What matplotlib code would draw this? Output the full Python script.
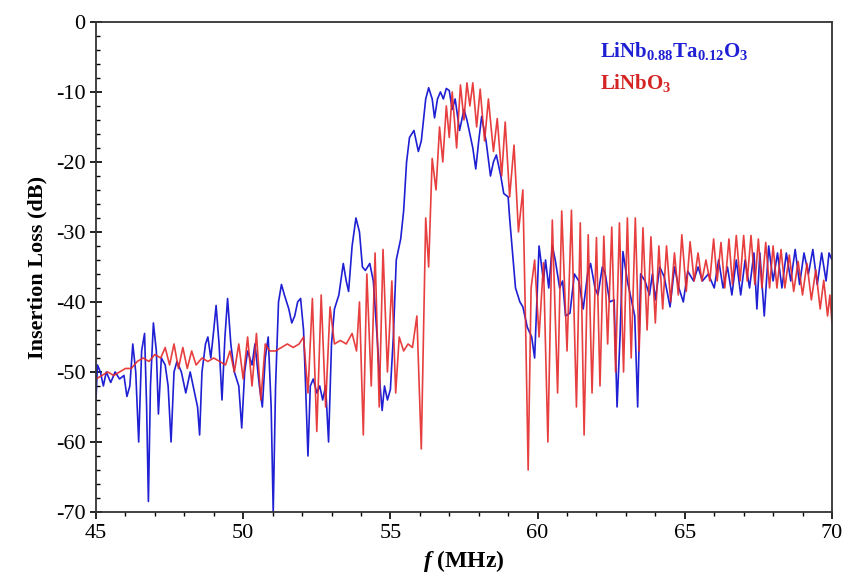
import matplotlib
matplotlib.use('Agg')
import matplotlib.pyplot as plt
from matplotlib.ticker import MultipleLocator

plt.rcParams['font.family'] = 'Liberation Serif'
plt.rcParams['axes.unicode_minus'] = False
plt.rcParams['mathtext.fontset'] = 'custom'
plt.rcParams['mathtext.rm'] = 'Liberation Serif:bold'
plt.rcParams['mathtext.bf'] = 'Liberation Serif:bold'
plt.rcParams['mathtext.it'] = 'Liberation Serif:italic:bold'

# LiNb0.88Ta0.12O3 (blue)
freq_blue = [45.00, 45.05, 45.15, 45.25, 45.35, 45.50, 45.65, 45.80, 45.95, 46.05,
             46.15, 46.25, 46.35, 46.45, 46.55, 46.65, 46.72, 46.78, 46.85, 46.95,
             47.05, 47.12, 47.22, 47.35, 47.45, 47.55, 47.65, 47.75, 47.90, 48.05,
             48.20, 48.30, 48.45, 48.52, 48.60, 48.72, 48.80, 48.90, 49.00, 49.08,
             49.18, 49.28, 49.38, 49.47, 49.58, 49.70, 49.85, 49.95, 50.05, 50.15,
             50.30, 50.40, 50.55, 50.65, 50.75, 50.85, 50.95, 51.02, 51.10, 51.20,
             51.30, 51.40, 51.55, 51.65, 51.75, 51.85, 51.95, 52.05, 52.12, 52.20,
             52.28, 52.38, 52.50, 52.60, 52.70, 52.80, 52.90, 53.00, 53.10, 53.25,
             53.40, 53.50, 53.58, 53.70, 53.83, 53.95, 54.05, 54.15, 54.30, 54.42,
             54.55, 54.65, 54.72, 54.80, 54.90, 55.00, 55.10, 55.20, 55.35, 55.45,
             55.55, 55.65, 55.80, 55.95, 56.05, 56.20, 56.30, 56.42, 56.50, 56.60,
             56.70, 56.80, 56.90, 57.00, 57.10, 57.20, 57.35, 57.50, 57.60, 57.70,
             57.80, 57.90, 58.00, 58.10, 58.25, 58.40, 58.50, 58.60, 58.75, 58.85,
             59.00, 59.05, 59.15, 59.25, 59.40, 59.50, 59.65, 59.80, 59.90, 60.05,
             60.20, 60.27, 60.38, 60.50, 60.60, 60.75, 60.85, 60.95, 61.10, 61.25,
             61.40, 61.55, 61.70, 61.80, 61.95, 62.05, 62.20, 62.30, 62.45, 62.60,
             62.70, 62.80, 62.90, 63.05, 63.15, 63.30, 63.40, 63.50, 63.65, 63.80,
             63.90, 64.00, 64.15, 64.30, 64.50, 64.65, 64.80, 64.95, 65.10, 65.30,
             65.45, 65.60, 65.80, 66.00, 66.15, 66.30, 66.45, 66.60, 66.75, 66.90,
             67.05, 67.20, 67.35, 67.45, 67.55, 67.70, 67.85, 68.00, 68.15, 68.30,
             68.45, 68.60, 68.75, 68.90, 69.05, 69.20, 69.35, 69.50, 69.65, 69.80,
             69.90, 70.00]
loss_blue = [-54, -49, -50, -52, -50, -51.5, -50, -51, -50.5, -53.5,
             -52, -46, -50, -60, -47, -44.5, -55, -68.5, -52, -43,
             -47, -56, -48, -49, -52, -60, -50, -48.5, -50, -53,
             -50, -52, -55, -59, -50, -46, -45, -48, -44, -40.5,
             -46, -54, -45, -39.5, -46, -50, -52, -58, -50, -47,
             -49, -46, -52, -55, -48, -45, -55, -70, -52, -40,
             -37.5, -39, -41, -43, -42, -40, -39.5, -44, -52, -62,
             -52, -51, -53, -52, -54, -52, -60, -46, -41, -39,
             -34.5, -37, -38.5, -32, -28, -30, -35, -35.5, -34.5, -37,
             -45, -52, -55.5, -52, -54, -52.5, -45, -34, -31, -27,
             -20, -16.5, -15.5, -18.5, -17, -11, -9.4, -11, -13.7, -11,
             -10, -11, -9.5, -9.8, -12.5, -11, -15.5, -12.5, -14, -16,
             -18, -21, -17, -13.5, -17, -22, -20, -19, -22, -24.5,
             -25, -28, -33, -38, -40, -40.7, -43.6, -45, -48, -32,
             -37, -34, -38, -32, -34, -38, -37, -42, -41.6, -36,
             -37, -41, -36, -34.5, -38, -39, -35, -36, -40, -39.7,
             -55, -45, -32.8, -37, -39, -42, -55, -36, -37, -39,
             -36, -39.7, -35, -36.4, -40.7, -35, -38, -40, -35.6, -37,
             -35, -37, -36, -38, -34, -38, -35, -39, -34, -39,
             -34, -38, -33, -41, -33, -42, -32, -37, -33, -38,
             -33, -37, -32.5, -37.5, -33, -36, -32.5, -37.5, -33, -37,
             -33, -34]

# LiNbO3 (red)
freq_red = [45.00, 45.20, 45.40, 45.60, 45.80, 46.00, 46.20, 46.40, 46.60, 46.80,
            47.00, 47.20, 47.35, 47.50, 47.65, 47.80, 47.95, 48.10, 48.25, 48.40,
            48.60, 48.80, 49.00, 49.20, 49.40, 49.55, 49.70, 49.85, 50.00, 50.15,
            50.30, 50.45, 50.60, 50.75, 50.90, 51.10, 51.30, 51.50, 51.70, 51.90,
            52.05, 52.20, 52.35, 52.50, 52.65, 52.80, 52.95, 53.10, 53.30, 53.50,
            53.70, 53.85, 53.95, 54.08, 54.20, 54.35, 54.48, 54.62, 54.75, 54.90,
            55.05, 55.18, 55.30, 55.45, 55.60, 55.75, 55.90, 56.05, 56.20, 56.30,
            56.42, 56.55, 56.67, 56.78, 56.90, 57.00, 57.10, 57.25, 57.38, 57.50,
            57.60, 57.70, 57.80, 57.93, 58.05, 58.20, 58.33, 58.50, 58.63, 58.78,
            58.90, 59.05, 59.20, 59.35, 59.50, 59.60, 59.68, 59.78, 59.90, 60.05,
            60.20, 60.35, 60.50, 60.68, 60.82, 61.00, 61.15, 61.32, 61.45, 61.58,
            61.72, 61.85, 62.00, 62.12, 62.25, 62.38, 62.52, 62.65, 62.78, 62.92,
            63.05, 63.18, 63.32, 63.45, 63.58, 63.72, 63.85, 64.00, 64.12, 64.25,
            64.38, 64.52, 64.65, 64.78, 64.90, 65.05, 65.18, 65.32, 65.45, 65.58,
            65.72, 65.85, 65.98, 66.10, 66.23, 66.36, 66.50, 66.62, 66.75, 66.88,
            67.00, 67.12, 67.25, 67.38, 67.50, 67.62, 67.75, 67.88, 68.00, 68.13,
            68.27, 68.40, 68.55, 68.70, 68.85, 69.00, 69.15, 69.30, 69.45, 69.60,
            69.72, 69.85, 69.93, 70.00]
loss_red = [-51, -50.5, -50, -50.5, -50, -49.5, -49.5, -48.5, -48, -48.5,
            -47.5, -48, -46.5, -49, -46, -49.5, -46.5, -49.5, -47, -49,
            -48, -48.5, -48, -48.5, -49, -47, -50, -46, -51, -45,
            -52, -44.5, -54, -46, -47, -47, -46.5, -46, -46.5, -46,
            -45, -53, -39.5, -58.5, -39, -55, -40.7, -46, -45.5, -46,
            -44.5, -47, -40, -59, -36, -52, -33, -55, -32.5, -50,
            -37, -53, -45, -47, -46, -46.5, -42, -61, -28, -35,
            -19.5, -24, -15, -20, -12, -16.5, -10, -18, -9, -14,
            -8.7, -12, -8.7, -15, -9.6, -17, -11, -18.5, -13.8, -22,
            -14.3, -25, -17.6, -30, -24, -45, -64, -38, -34, -45,
            -34.4, -60, -28.3, -53, -27, -47, -26.9, -55, -28.7, -59,
            -30.4, -53, -30.8, -52, -30.6, -46, -29.3, -50, -28.7, -50,
            -28, -48, -28, -47, -29.4, -44, -30.7, -43, -32, -41,
            -32, -40, -33, -39, -30.4, -38.5, -31.4, -37, -33, -37,
            -34, -37, -31, -37, -31.5, -38, -31, -37.5, -30.5, -37,
            -30.5, -37, -30.5, -37.5, -31, -38, -31.5, -38, -32, -38,
            -32.5, -38, -33.3, -38.5, -34.2, -39, -34.5, -39.7, -35.4, -41,
            -36.9, -42, -39, -43]

fig = plt.figure(figsize=(8.48, 5.87), dpi=100)
ax = fig.add_axes([0.1132, 0.1278, 0.8679, 0.8348])

ax.plot(freq_blue, loss_blue, color='#1f1fd4', lw=1.2)
ax.plot(freq_red, loss_red, color='#e52a2a', lw=1.2, alpha=0.9)

ax.set_xlim(45, 70)
ax.set_ylim(-70, 0)
ax.xaxis.set_major_locator(MultipleLocator(5))
ax.xaxis.set_minor_locator(MultipleLocator(1))
ax.yaxis.set_major_locator(MultipleLocator(10))
ax.yaxis.set_minor_locator(MultipleLocator(2))
ax.tick_params(axis='x', which='major', direction='out', length=5, width=1.2, labelsize=16)
ax.tick_params(axis='x', which='minor', direction='out', length=3, width=1)
ax.tick_params(axis='y', which='major', direction='inout', length=8, width=1.2, labelsize=16)
ax.tick_params(axis='y', which='minor', direction='in', length=3, width=1)
for s in ax.spines.values():
    s.set_linewidth(1.3)
    s.set_color('#333333')

ax.set_ylabel('Insertion Loss (dB)', fontsize=16, fontweight='bold', labelpad=6)
ax.set_xlabel('$f$ (MHz)', fontsize=17, fontweight='bold', labelpad=4)

ax.text(0.685, 0.94, r'$\mathbf{LiNb_{0.88}Ta_{0.12}O_3}$', transform=ax.transAxes,
        color='#1f1fd4', fontsize=15, va='center')
ax.text(0.685, 0.875, r'$\mathbf{LiNbO_3}$', transform=ax.transAxes,
        color='#d42424', fontsize=15, va='center')

plt.savefig('out.png', dpi=100)
